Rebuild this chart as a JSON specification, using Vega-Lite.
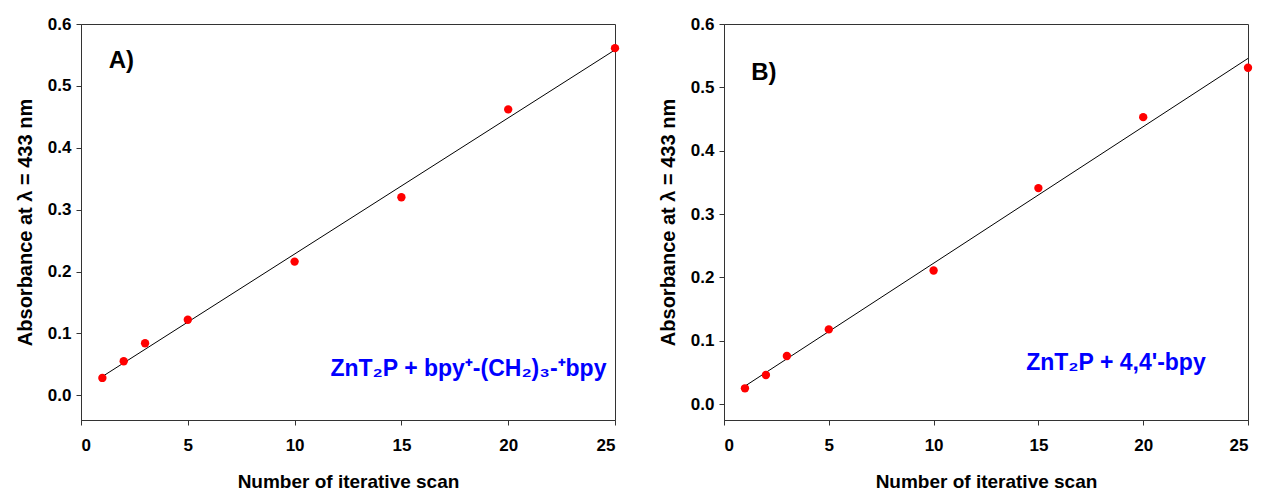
{
  "$schema": "https://vega.github.io/schema/vega-lite/v6.json",
  "background": "white",
  "padding": {"left": 14, "top": 14, "right": 5, "bottom": 0},
  "bounds": "flush",
  "spacing": 109,
  "datasets": {
    "A": [
      {"scan": 1, "abs": 0.028},
      {"scan": 2, "abs": 0.055},
      {"scan": 3, "abs": 0.084},
      {"scan": 5, "abs": 0.122},
      {"scan": 10, "abs": 0.216},
      {"scan": 15, "abs": 0.320},
      {"scan": 20, "abs": 0.462},
      {"scan": 25, "abs": 0.561}
    ],
    "B": [
      {"scan": 1, "abs": 0.025},
      {"scan": 2, "abs": 0.046},
      {"scan": 3, "abs": 0.076},
      {"scan": 5, "abs": 0.118},
      {"scan": 10, "abs": 0.211},
      {"scan": 15, "abs": 0.341},
      {"scan": 20, "abs": 0.453},
      {"scan": 25, "abs": 0.531}
    ]
  },
  "config": {
    "font": "Liberation Sans",
    "view": {"stroke": "#333333", "strokeWidth": 1},
    "axis": {
      "grid": false,
      "domainColor": "#333333",
      "tickColor": "#333333",
      "tickSize": 5,
      "labelFont": "Liberation Sans",
      "labelFontWeight": "bold",
      "labelFontSize": 17,
      "labelColor": "#000000",
      "titleFont": "Liberation Sans",
      "titleFontWeight": "bold",
      "titleColor": "#000000"
    }
  },
  "hconcat": [
    {
      "width": 534,
      "height": 396,
      "layer": [
        {
          "data": {"name": "A"},
          "mark": {"type": "line", "color": "#000000", "strokeWidth": 1},
          "transform": [{"regression": "abs", "on": "scan", "extent": [1, 25]}],
          "encoding": {
            "x": {"field": "scan", "type": "quantitative", "scale": {"domain": [0, 25], "nice": false, "zero": false},
                  "axis": {"values": [0, 5, 10, 15, 20, 25], "title": "Number of iterative scan", "titleFontSize": 19, "titlePadding": 19, "labelPadding": 12, "labelFontWeight": "bold", "labelFontSize": 17}},
            "y": {"field": "abs", "type": "quantitative", "scale": {"domain": [-0.04, 0.6], "nice": false, "zero": false},
                  "axis": {"values": [0, 0.1, 0.2, 0.3, 0.4, 0.5, 0.6], "format": ".1f", "title": "Absorbance at λ = 433 nm", "titleFontSize": 20, "titlePadding": 12, "labelPadding": 5, "labelFontWeight": "bold", "labelFontSize": 17}}
          }
        },
        {
          "data": {"name": "A"},
          "mark": {"type": "circle", "color": "#ff0000", "opacity": 1, "size": 70},
          "encoding": {
            "x": {"field": "scan", "type": "quantitative"},
            "y": {"field": "abs", "type": "quantitative"}
          }
        },
        {
          "data": {"values": [{"label": "A)"}]},
          "mark": {"type": "text", "align": "left", "baseline": "middle", "fontSize": 24, "fontWeight": "bold", "color": "#000000"},
          "encoding": {"x": {"datum": 1.3}, "y": {"datum": 0.54}, "text": {"field": "label"}}
        },
        {
          "data": {"values": [{"label": "ZnT₂P + bpy⁺-(CH₂)₃-⁺bpy"}]},
          "mark": {"type": "text", "align": "right", "baseline": "middle", "fontSize": 23, "fontWeight": "bold", "color": "#0000ff"},
          "encoding": {"x": {"datum": 24.6}, "y": {"datum": 0.042}, "text": {"field": "label"}}
        }
      ]
    },
    {
      "width": 524,
      "height": 396,
      "layer": [
        {
          "data": {"name": "B"},
          "mark": {"type": "line", "color": "#000000", "strokeWidth": 1},
          "transform": [{"regression": "abs", "on": "scan", "extent": [1, 25]}],
          "encoding": {
            "x": {"field": "scan", "type": "quantitative", "scale": {"domain": [0, 25], "nice": false, "zero": false},
                  "axis": {"values": [0, 5, 10, 15, 20, 25], "title": "Number of iterative scan", "titleFontSize": 19, "titlePadding": 19, "labelPadding": 12, "labelFontWeight": "bold", "labelFontSize": 17}},
            "y": {"field": "abs", "type": "quantitative", "scale": {"domain": [-0.025, 0.6], "nice": false, "zero": false},
                  "axis": {"values": [0, 0.1, 0.2, 0.3, 0.4, 0.5, 0.6], "format": ".1f", "title": "Absorbance at λ = 433 nm", "titleFontSize": 20, "titlePadding": 12, "labelPadding": 5, "labelFontWeight": "bold", "labelFontSize": 17}}
          }
        },
        {
          "data": {"name": "B"},
          "mark": {"type": "circle", "color": "#ff0000", "opacity": 1, "size": 70},
          "encoding": {
            "x": {"field": "scan", "type": "quantitative"},
            "y": {"field": "abs", "type": "quantitative"}
          }
        },
        {
          "data": {"values": [{"label": "B)"}]},
          "mark": {"type": "text", "align": "left", "baseline": "middle", "fontSize": 24, "fontWeight": "bold", "color": "#000000"},
          "encoding": {"x": {"datum": 1.3}, "y": {"datum": 0.523}, "text": {"field": "label"}}
        },
        {
          "data": {"values": [{"label": "ZnT₂P + 4,4'-bpy"}]},
          "mark": {"type": "text", "align": "center", "baseline": "middle", "fontSize": 23, "fontWeight": "bold", "color": "#0000ff"},
          "encoding": {"x": {"datum": 18.7}, "y": {"datum": 0.065}, "text": {"field": "label"}}
        }
      ]
    }
  ],
  "resolve": {"scale": {"x": "independent", "y": "independent"}}
}
